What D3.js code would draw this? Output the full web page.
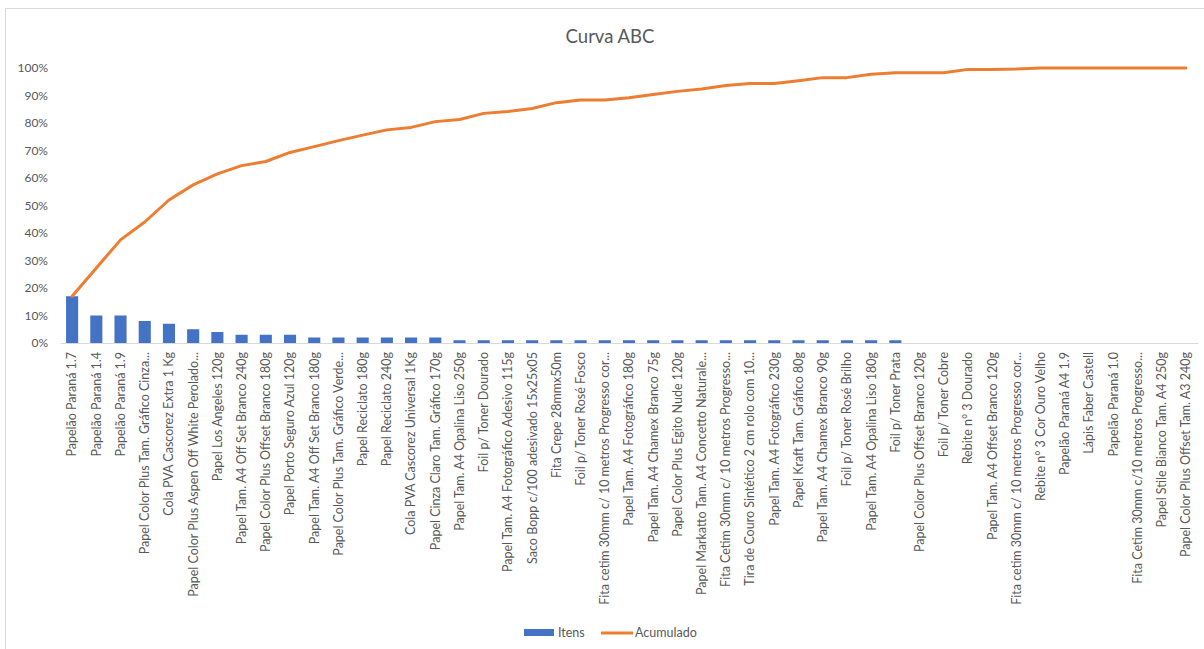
<!DOCTYPE html>
<html><head><meta charset="utf-8">
<script src="https://cdn.jsdelivr.net/npm/d3@7"></script>
<style>body{margin:0;background:#fff}svg{display:block;font-family:Lato,"Open Sans",sans-serif}</style>
</head><body><svg id="c" width="1204" height="649"></svg>
<script>
const categories = ["Papelão Paraná 1.7","Papelão Paraná 1.4","Papelão Paraná 1.9","Papel Color Plus Tam. Gráfico Cinza...","Cola PVA Cascorez Extra 1 Kg","Papel Color Plus Aspen Off White Perolado...","Papel Los Angeles 120g","Papel Tam. A4 Off Set Branco 240g","Papel Color Plus Offset Branco 180g","Papel Porto Seguro Azul 120g","Papel Tam. A4 Off Set Branco 180g","Papel Color Plus Tam. Gráfico Verde...","Papel Reciclato 180g","Papel Reciclato 240g","Cola PVA Cascorez Universal 1Kg","Papel Cinza Claro Tam. Gráfico 170g","Papel Tam. A4 Opalina Liso 250g","Foil p/ Toner Dourado","Papel Tam. A4 Fotográfico Adesivo 115g","Saco Bopp c/100 adesivado 15x25x05","Fita Crepe 28mmx50m","Foil p/ Toner Rosé Fosco","Fita cetim 30mm c/ 10 metros Progresso cor...","Papel Tam. A4 Fotográfico 180g","Papel Tam. A4 Chamex Branco 75g","Papel Color Plus Egito Nude 120g","Papel Markatto Tam. A4 Concetto Naturale...","Fita Cetim 30mm c/ 10 metros Progresso...","Tira de Couro Sintético 2 cm rolo com 10...","Papel Tam. A4 Fotográfico 230g","Papel Kraft Tam. Gráfico 80g","Papel Tam. A4 Chamex Branco 90g","Foil p/ Toner Rosé Brilho","Papel Tam. A4 Opalina Liso 180g","Foil p/ Toner Prata","Papel Color Plus Offset Branco 120g","Foil p/ Toner Cobre","Rebite n° 3 Dourado","Papel Tam. A4 Offset Branco 120g","Fita cetim 30mm c/ 10 metros Progresso cor...","Rebite n° 3 Cor Ouro Velho","Papelão Paraná A4 1.9","Lápis Faber Castell","Papelão Paraná 1.0","Fita Cetim 30mm c/10 metros Progresso...","Papel Stile Bianco Tam. A4 250g","Papel Color Plus Offset Tam. A3 240g"];
const itens = [17,10,10,8,7,5,4,3,3,3,2,2,2,2,2,2,1,1,1,1,1,1,1,1,1,1,1,1,1,1,1,1,1,1,1,0,0,0,0,0,0,0,0,0,0,0,0];
const acumulado = [17,27.3,37.5,44,52,57.5,61.5,64.5,66,69.3,71.4,73.6,75.6,77.5,78.4,80.5,81.3,83.5,84.2,85.3,87.4,88.4,88.4,89.2,90.4,91.5,92.4,93.6,94.4,94.4,95.4,96.5,96.5,97.7,98.3,98.3,98.3,99.5,99.5,99.6,100,100,100,100,100,100,100];
const yTicks = [0,10,20,30,40,50,60,70,80,90,100];
const title = "Curva ABC";
const legendItems = ["Itens","Acumulado"];

const svg = d3.select("#c");
const pLeft = 60, pRight = 1198, pTop = 68, pBottom = 343;
const txt = "#595959";

svg.append("rect").attr("x",5.5).attr("y",8.5).attr("width",1210).attr("height",660)
  .attr("fill","none").attr("stroke","#d9d9d9");

svg.append("text").attr("x",610).attr("y",43).attr("text-anchor","middle")
  .attr("font-size",18.5).attr("fill",txt).text(title);

const idx = categories.map((d,i)=>i);
const x = d3.scaleBand().domain(idx).range([pLeft,pRight]).paddingInner(0.5).paddingOuter(0.25);
const y = d3.scaleLinear().domain([0,100]).range([pBottom,pTop]);

const ya = svg.append("g").attr("transform",`translate(${pLeft},0)`)
  .call(d3.axisLeft(y).tickValues(yTicks).tickFormat(d=>d+"%").tickSize(0).tickPadding(12));
ya.select(".domain").remove();
ya.selectAll("text").attr("font-size",12).attr("fill",txt).attr("font-family","Lato,sans-serif");

svg.append("g").selectAll("rect").data(idx).join("rect")
  .attr("x",i=>x(i)).attr("width",x.bandwidth())
  .attr("y",i=>y(itens[i])).attr("height",i=>y(0)-y(itens[i]))
  .attr("fill","#4472c4");

const xa = svg.append("g").attr("transform",`translate(0,${pBottom})`)
  .call(d3.axisBottom(x).tickFormat(i=>categories[i]).tickSize(0).tickSizeOuter(0));
xa.select(".domain").attr("stroke","#d9d9d9").attr("stroke-width",1);
xa.selectAll("text").attr("font-size",12.5).attr("fill",txt).attr("font-family","Lato,sans-serif")
  .attr("transform","rotate(-90)").attr("text-anchor","end").attr("dx",-9).attr("dy","0.35em").attr("y",0);

const line = d3.line().x((d,i)=>x(i)+x.bandwidth()/2).y(d=>y(d));
svg.append("path").datum(acumulado).attr("d",line).attr("fill","none")
  .attr("stroke","#ed7d31").attr("stroke-width",3).attr("stroke-linejoin","round").attr("stroke-linecap","round");

const lg = svg.append("g").attr("font-size",12.5).attr("fill",txt);
lg.append("rect").attr("x",524).attr("y",629).attr("width",30).attr("height",7).attr("fill","#4472c4");
lg.append("text").attr("x",558).attr("y",637).attr("fill",txt).text(legendItems[0]);
lg.append("line").attr("x1",601).attr("x2",633).attr("y1",633).attr("y2",633).attr("stroke","#ed7d31").attr("stroke-width",3);
lg.append("text").attr("x",635).attr("y",637).attr("fill",txt).text(legendItems[1]);
</script></body></html>
